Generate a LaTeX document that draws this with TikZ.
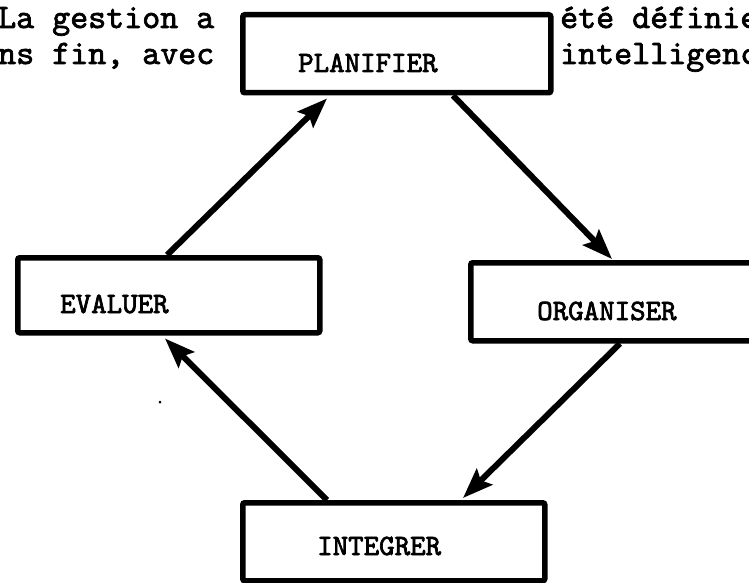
\documentclass[tikz,border=0pt]{standalone}
\usepackage{fontspec}
\newfontfamily\typeface{lmmono10-regular}[Extension=.otf, FakeBold=2]
\newfontfamily\labelface{lmmono10-regular}[Extension=.otf, FakeBold=2.4]
\usetikzlibrary{arrows.meta}

\tikzset{
  stepbox/.style={draw, line width=5.5pt, rounded corners=2pt, inner sep=0pt, anchor=north west},
  steplabel/.style={inner sep=0pt, anchor=base west, font=\labelface\fontsize{29.5}{30}\selectfont},
  prose/.style={inner sep=0pt, anchor=base west, font=\typeface\fontsize{34.3}{40}\selectfont},
  flow/.style={line width=6pt, -{Stealth[length=30pt, width=22pt, inset=5pt]}},
}

\begin{document}
\begin{tikzpicture}[x=1pt, y=-1pt]
  \useasboundingbox (0,0) rectangle (749,583);
  \clip (0,0) rectangle (749,583);

  % running text of the page, interrupted by the top box
  \node[prose] (t1a) at (-2,28) {La gestion a};
  \node[prose] (t1b) at (560,28) {été définie};
  \node[prose] (t2a) at (-2,64) {ns fin, avec};
  \node[prose] (t2b) at (560,64) {intelligence};

  % the four stages
  \node[stepbox, minimum width=308pt, minimum height=78pt] (plan) at (240,12) {};
  \node[stepbox, minimum width=320pt, minimum height=78pt] (org)  at (468,260) {};
  \node[stepbox, minimum width=302pt, minimum height=78pt] (integ) at (240,500) {};
  \node[stepbox, minimum width=302pt, minimum height=75pt] (eval) at (15,255) {};

  \node[steplabel] (planl)  at (298,72)  {PLANIFIER};
  \node[steplabel] (orgl)   at (537,320) {ORGANISER};
  \node[steplabel] (integl) at (317,555) {INTEGRER};
  \node[steplabel] (evall)  at (60,313)  {EVALUER};

  % the cycle
  \draw[flow] ([xshift=213pt]plan.south west) -- ([xshift=144pt, yshift=1pt]org.north west);
  \draw[flow] ([xshift=152pt]org.south west) -- ([xshift=223pt, yshift=2pt]integ.north west);
  \draw[flow] ([xshift=87pt]integ.north west) -- ([xshift=150pt, yshift=-3pt]eval.south west);
  \draw[flow] ([xshift=152pt]eval.north west) -- ([xshift=87pt, yshift=-3pt]plan.south west);

  % speck on the sheet
  \fill (160,402) circle (1.5pt);
\end{tikzpicture}
\end{document}
